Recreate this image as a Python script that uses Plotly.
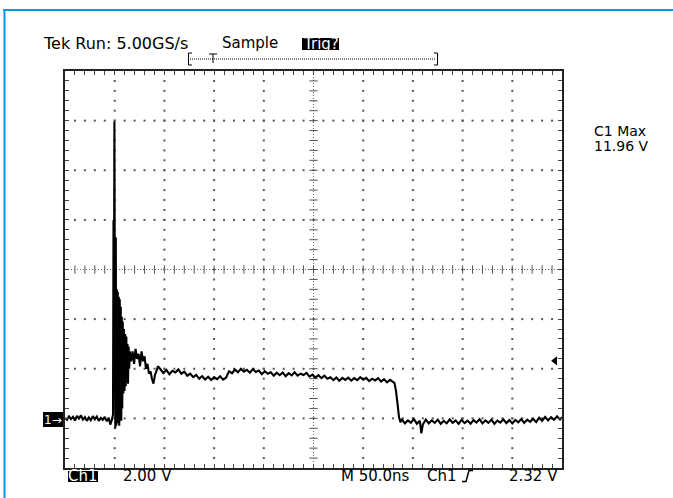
import plotly.graph_objects as go

# ---------------- data (time in ns, voltage in V) ----------------
t_pre = [0, 2, 4, 6, 8, 10, 12, 14, 16, 18, 20, 22, 24, 26, 28, 30, 32, 34, 36, 38,
         40, 42, 44, 45.5, 47, 48.3]
v_pre = [0.02, -0.06, 0.08, -0.03, 0.06, -0.09, 0.10, -0.01, 0.12, -0.05, 0.05, -0.10,
         0.04, -0.07, 0.09, -0.04, 0.07, -0.10, 0.02, -0.06, 0.06, -0.12, 0.03, -0.25,
         -0.08, 0.15]

t_spike = [48.8, 49.3, 49.7, 50.1, 50.6, 51.1, 51.6, 52.1, 52.6, 53.1, 53.6, 54.1, 54.6,
           55.1, 55.6, 56.1, 56.6, 57.1, 57.6, 58.1, 58.7, 59.3, 59.9, 60.5, 61.1, 61.7,
           62.3, 62.9, 63.4, 64.0, 64.6, 65.2]
v_spike = [8.0, 4.5, 11.96, 5.5, -0.4, 7.3, -0.3, 5.2, -0.2, 5.1, 0.0, 4.9, -0.3,
           4.8, 0.1, 4.5, -0.1, 4.1, 0.4, 3.9, 1.0, 3.6, 1.1, 3.4, 1.3, 3.3,
           1.6, 3.0, 1.4, 2.9, 2.0, 2.7]

t_settle = [66.5, 68, 69.5, 71, 72.5, 74, 75.5, 77, 78.5, 80, 81.5, 83, 84.5, 86, 87.5,
            89, 90.5, 92, 93.5]
v_settle = [2.3, 2.7, 2.2, 2.8, 2.4, 2.6, 2.1, 2.7, 2.3, 2.5, 2.0, 2.2, 1.8, 1.9, 1.6,
            1.4, 1.75, 1.9, 2.1]

t_plateau = [96, 99, 102, 105, 108, 111, 114, 117, 120, 123, 126, 129, 132, 135, 138,
             141, 144, 147, 150, 153, 156, 159, 162, 165, 168, 171, 174, 177, 180, 183,
             186, 189, 192, 195, 198, 201, 204, 207, 210, 213, 216, 219, 222, 225, 228,
             231, 234, 237, 240, 243, 246, 249, 252, 255, 258, 261, 264, 267, 270, 273,
             276, 279, 282, 285, 288, 291, 294, 297, 300, 303, 306, 309, 312, 315, 318,
             321, 324, 327, 330]
v_plateau = [1.98, 1.82, 1.95, 1.78, 1.92, 1.85, 1.97, 1.80, 1.88, 1.72, 1.80, 1.66, 1.75,
             1.60, 1.70, 1.57, 1.68, 1.55, 1.66, 1.58, 1.70, 1.56, 1.64, 1.90, 1.82, 1.97,
             1.86, 2.00, 1.88, 1.96, 1.84, 1.99, 1.87, 1.93, 1.78, 1.90, 1.80, 1.86, 1.72,
             1.84, 1.74, 1.85, 1.70, 1.82, 1.73, 1.86, 1.72, 1.80, 1.75, 1.83, 1.68, 1.76,
             1.64, 1.74, 1.62, 1.72, 1.60, 1.66, 1.54, 1.65, 1.52, 1.63, 1.55, 1.64, 1.52,
             1.62, 1.54, 1.66, 1.56, 1.63, 1.50, 1.60, 1.53, 1.62, 1.48, 1.58, 1.45, 1.55,
             1.47]

t_fall = [331.5, 333, 334.5, 336, 337.5]
v_fall = [1.42, 1.1, 0.6, 0.05, -0.15]

t_post = [339, 342, 345, 348, 351, 354, 357, 358.5, 360, 363, 366, 369, 372, 375, 378,
          381, 384, 387, 390, 393, 396, 399, 402, 405, 408, 411, 414, 417, 420, 423,
          426, 429, 432, 435, 438, 441, 444, 447, 450, 453, 456, 459, 462, 465, 468,
          471, 474, 477, 480, 483, 486, 489, 492, 495, 498, 500]
v_post = [-0.05, -0.20, -0.08, -0.18, -0.02, -0.22, -0.10, -0.60, -0.25, -0.05, -0.20,
          -0.08, -0.18, -0.05, -0.22, -0.10, -0.20, -0.04, -0.18, -0.08, -0.22, -0.06,
          -0.19, -0.09, -0.21, -0.07, -0.17, -0.03, -0.20, -0.08, -0.18, -0.05, -0.22,
          -0.09, -0.17, -0.04, -0.19, -0.07, -0.20, -0.06, -0.16, -0.03, -0.18, -0.05,
          -0.14, -0.02, -0.15, 0.03, -0.10, 0.06, -0.08, 0.05, -0.06, 0.08, -0.04, 0.05]

time_ns = t_pre + t_spike + t_settle + t_plateau + t_fall + t_post
volts = v_pre + v_spike + v_settle + v_plateau + v_fall + v_post

X_RANGE = [0, 500]      # 10 div x 50 ns
Y_RANGE = [-2, 14]      # 8 div x 2 V, ground 1 div above bottom
X_DIV = 50
Y_DIV = 2
trigger_level = 2.32
c1_max = 11.96

header_texts = ["Tek Run: 5.00GS/s", "Sample", "Trig?"]
footer_texts = ["Ch1", "2.00 V", "M 50.0ns", "Ch1", "2.32 V"]
meas_texts = ["C1 Max", "%.2f V" % c1_max]

# ---------------- geometry helpers ----------------
W, H = 673, 498
L, R, T, B = 65, 111, 71, 30
PW, PH = W - L - R, H - T - B


def px(x):
    return (x - L) / PW


def py(y):
    return (H - B - y) / PH


FONT = "DejaVu Sans"

fig = go.Figure()

# graticule dots
gx, gy = [], []
for k in range(1, 10):
    if k == 5:
        continue
    for j in range(1, 40):
        gx.append(X_RANGE[0] + k * X_DIV)
        gy.append(Y_RANGE[0] + j * Y_DIV / 5)
for k in range(1, 8):
    if k == 4:
        continue
    for j in range(1, 50):
        gx.append(X_RANGE[0] + j * X_DIV / 5)
        gy.append(Y_RANGE[0] + k * Y_DIV)
fig.add_trace(go.Scatter(x=gx, y=gy, mode="markers", hoverinfo="skip",
                         marker=dict(symbol="square", size=2, color="#555", line=dict(width=0))))

# center cross ticks
cx = [X_RANGE[0] + j * X_DIV / 5 for j in range(1, 50)]
cy = [Y_RANGE[0] + j * Y_DIV / 5 for j in range(1, 40)]
ymid = (Y_RANGE[0] + Y_RANGE[1]) / 2
xmid = (X_RANGE[0] + X_RANGE[1]) / 2
fig.add_trace(go.Scatter(x=cx, y=[ymid] * len(cx), mode="markers", hoverinfo="skip",
                         marker=dict(symbol="line-ns", size=6, line=dict(width=1, color="#555"))))
fig.add_trace(go.Scatter(x=[xmid] * len(cy), y=cy, mode="markers", hoverinfo="skip",
                         marker=dict(symbol="line-ew", size=6, line=dict(width=1, color="#555"))))

# waveform
fig.add_trace(go.Scatter(x=time_ns, y=volts, mode="lines", hoverinfo="skip",
                         line=dict(color="black", width=2.1, simplify=False)))

# trigger level indicator
fig.add_trace(go.Scatter(x=[X_RANGE[1] - 7], y=[trigger_level], mode="markers", hoverinfo="skip",
                         marker=dict(symbol="triangle-left", size=8, color="black")))

shapes = []
# center lines (dotted)
shapes.append(dict(type="line", xref="x", yref="y", x0=X_RANGE[0], x1=X_RANGE[1], y0=ymid, y1=ymid,
                   line=dict(color="#666", width=1, dash="1px,2px"), layer="below"))
shapes.append(dict(type="line", xref="x", yref="y", x0=xmid, x1=xmid, y0=Y_RANGE[0], y1=Y_RANGE[1],
                   line=dict(color="#666", width=1, dash="1px,2px"), layer="below"))

# blue page border
BLUE = "#0099e6"
shapes.append(dict(type="line", xref="paper", yref="paper", x0=px(3), x1=px(W + 2), y0=py(10), y1=py(10),
                   line=dict(color=BLUE, width=2)))
shapes.append(dict(type="line", xref="paper", yref="paper", x0=px(4.5), x1=px(4.5), y0=py(9), y1=py(H + 2),
                   line=dict(color=BLUE, width=2)))

# record bracket at top
blk = dict(color="black", width=1)
shapes += [
    dict(type="line", xref="paper", yref="paper", x0=px(188.5), x1=px(188.5), y0=py(53), y1=py(65), line=blk),
    dict(type="line", xref="paper", yref="paper", x0=px(188.5), x1=px(192), y0=py(53), y1=py(53), line=blk),
    dict(type="line", xref="paper", yref="paper", x0=px(188.5), x1=px(192), y0=py(65), y1=py(65), line=blk),
    dict(type="line", xref="paper", yref="paper", x0=px(437.5), x1=px(437.5), y0=py(53), y1=py(65), line=blk),
    dict(type="line", xref="paper", yref="paper", x0=px(434), x1=px(437.5), y0=py(53), y1=py(53), line=blk),
    dict(type="line", xref="paper", yref="paper", x0=px(434), x1=px(437.5), y0=py(65), y1=py(65), line=blk),
    dict(type="line", xref="paper", yref="paper", x0=px(190), x1=px(436), y0=py(59), y1=py(59),
         line=dict(color="black", width=1, dash="1px,1px")),
    dict(type="line", xref="paper", yref="paper", x0=px(209), x1=px(217), y0=py(54), y1=py(54), line=blk),
    dict(type="line", xref="paper", yref="paper", x0=px(213), x1=px(213), y0=py(54), y1=py(63), line=blk),
]

# black label boxes
for (x0, x1, y0, y1) in [(302, 339, 38, 50), (68, 98, 471, 482), (43, 63, 412, 427)]:
    shapes.append(dict(type="rect", xref="paper", yref="paper", x0=px(x0), x1=px(x1),
                       y0=py(y1), y1=py(y0), fillcolor="black", line=dict(width=0)))

# trigger slope symbol
shapes.append(dict(type="path", xref="paper", yref="paper",
                   path="M %f,%f L %f,%f L %f,%f L %f,%f" % (px(462), py(481.5), px(466), py(481.5),
                                                               px(469), py(470.5), px(473), py(470.5)),
                   line=dict(color="black", width=1.5)))

annotations = []


def txt(text, x, y, size=15, color="black", anchor="left"):
    annotations.append(dict(text=text, xref="paper", yref="paper", x=px(x), y=py(y),
                            xanchor=anchor, yanchor="middle", showarrow=False,
                            font=dict(family=FONT, size=size, color=color)))


txt(header_texts[0], 41, 43, size=16)
txt(header_texts[1], 220, 43)
txt(header_texts[2], 320.5, 44, color="white", anchor="center")
txt(meas_texts[0], 592, 131, size=14)
txt(meas_texts[1], 592, 146, size=14)
txt(footer_texts[0], 83, 476.5, color="white", anchor="center")
txt(footer_texts[1], 121, 476)
txt(footer_texts[2], 339, 476)
txt(footer_texts[3], 425, 476)
txt(footer_texts[4], 507, 476)
txt("1\u2192", 53, 419.5, size=12, color="white", anchor="center")

axis_common = dict(showgrid=False, zeroline=False, showticklabels=False, ticks="inside",
                   ticklen=4, tickwidth=1, tickcolor="#444", showline=True, linecolor="#222",
                   linewidth=1.5, mirror="ticks", fixedrange=True)

fig.update_layout(
    width=W, height=H,
    margin=dict(l=L, r=R, t=T, b=B, pad=0),
    paper_bgcolor="white", plot_bgcolor="white",
    showlegend=False,
    xaxis=dict(range=X_RANGE, dtick=X_DIV / 5, tick0=0, **axis_common),
    yaxis=dict(range=Y_RANGE, dtick=Y_DIV / 5, tick0=Y_RANGE[0], **axis_common),
    shapes=shapes,
    annotations=annotations,
)

fig.write_html("out.html", config={"displayModeBar": False},
               post_script="document.body.style.margin='0';document.body.style.overflow='hidden';")
